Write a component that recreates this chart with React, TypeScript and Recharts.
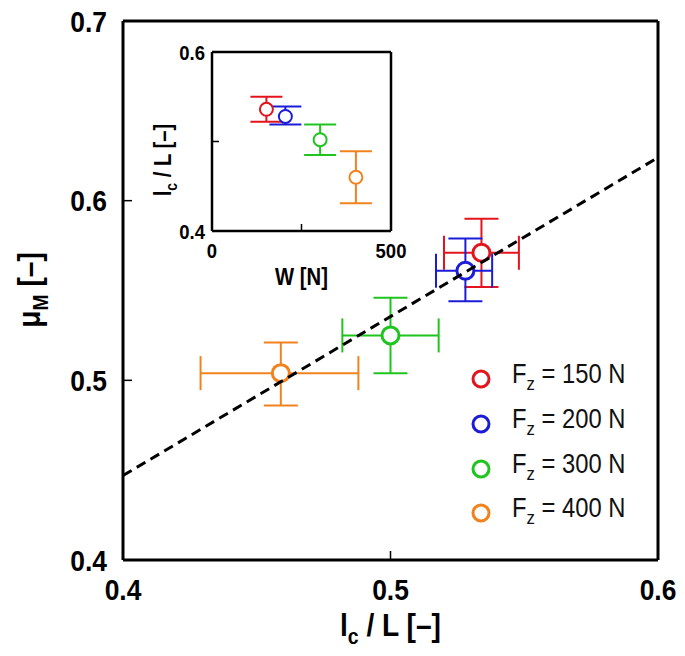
import React from "react";
import {
  ScatterChart,
  Scatter,
  XAxis,
  YAxis,
  ErrorBar,
  Legend,
  Label,
} from "recharts";

// normal loads F_z [N] and their colours
const loads = [150, 200, 300, 400];
const colors = ["#e3141c", "#1c1cd8", "#1fc41f", "#f2821e"];

// main plot: l_c/L (x) vs mu_M (y), with error bounds
const lcL = [0.534, 0.528, 0.5, 0.459];
const lcLLow = [0.52, 0.517, 0.482, 0.429];
const lcLHigh = [0.548, 0.538, 0.518, 0.488];
const muM = [0.571, 0.561, 0.525, 0.504];
const muMLow = [0.552, 0.544, 0.504, 0.486];
const muMHigh = [0.59, 0.579, 0.546, 0.521];

// fitted dashed line end points
const fitX = [0.4, 0.6];
const fitY = [0.447, 0.624];

// inset: W [N] vs l_c/L
const insetW = [152, 205, 302, 402];
const insetLcL = [0.536, 0.528, 0.502, 0.46];
const insetLow = [0.522, 0.519, 0.485, 0.431];
const insetHigh = [0.55, 0.539, 0.519, 0.489];

const mainXTicks = [0.4, 0.5, 0.6];
const mainYTicks = [0.4, 0.5, 0.6, 0.7];
const insetXTicks = [0, 250, 500];
const insetYTicks = [0.4, 0.5, 0.6];

const mainSeries = loads.map((load, i) => [
  {
    x: lcL[i],
    y: muM[i],
    ex: [lcL[i] - lcLLow[i], lcLHigh[i] - lcL[i]],
    ey: [muM[i] - muMLow[i], muMHigh[i] - muM[i]],
  },
]);

const fitData = fitX.map((x, i) => ({ x, y: fitY[i] }));

const insetSeries = loads.map((load, i) => [
  {
    x: insetW[i],
    y: insetLcL[i],
    ey: [insetLcL[i] - insetLow[i], insetHigh[i] - insetLcL[i]],
  },
]);
const insetAll = insetW.map((x, i) => ({ x, y: insetLcL[i] }));

const FONT = "'Liberation Sans', Arial, sans-serif";
const SQUEEZE = 0.88;

const axisLine = { stroke: "#000", strokeWidth: 3 };
const insetAxisLine = { stroke: "#000", strokeWidth: 2.5 };
const tickLine = { stroke: "#000", strokeWidth: 1.5 };

// condensed-looking tick label
const makeTick = (fontSize: number, side: "bottom" | "left", fmt: (v: number) => string) => (props: any) => {
  const { x, y, payload } = props;
  const label = fmt(payload.value);
  if (!label) return <g />;
  const base = side === "bottom" ? y + fontSize * 0.72 : y + fontSize * 0.36;
  return (
    <text
      transform={`translate(${x},${base}) scale(${SQUEEZE},1)`}
      textAnchor={side === "bottom" ? "middle" : "end"}
      fontFamily={FONT}
      fontWeight={700}
      fontSize={fontSize}
      fill="#000"
    >
      {label}
    </text>
  );
};

const none = () => <g />;

const ring = (r: number, color: string, sw: number) => (props: any) =>
  <circle cx={props.cx} cy={props.cy} r={r} fill="#fff" stroke={color} strokeWidth={sw} />;

const renderLegend = (props: any) => {
  const { payload } = props;
  const items = (payload || []).filter((e: any) => e.value !== "fit");
  return (
    <div style={{ fontFamily: FONT, fontSize: 27, color: "#111" }}>
      {items.map((entry: any, i: number) => (
        <div key={i} style={{ display: "flex", alignItems: "center", height: 44.7 }}>
          <svg width={22} height={22}>
            <circle cx={11} cy={11} r={8} fill="#fff" stroke={colors[i]} strokeWidth={3} />
          </svg>
          <span
            style={{
              marginLeft: 20,
              lineHeight: "27px",
              display: "inline-block",
              transform: `scaleX(${SQUEEZE})`,
              transformOrigin: "left center",
              whiteSpace: "nowrap",
            }}
          >
            F<sub style={{ fontSize: 19, verticalAlign: -7 }}>z</sub> = {entry.value} N
          </span>
        </div>
      ))}
    </div>
  );
};

const MainXTitle = (props: any) => {
  const { viewBox } = props;
  const cx = viewBox.x + viewBox.width / 2;
  return (
    <text
      transform={`translate(${cx},636) scale(${SQUEEZE},1)`}
      textAnchor="middle"
      fontFamily={FONT}
      fontWeight={700}
      fontSize={32}
    >
      <tspan>l</tspan>
      <tspan dy={8} fontSize={22}>c</tspan>
      <tspan dy={-8}> / L [–]</tspan>
    </text>
  );
};

const MainYTitle = () => (
  <text
    transform={`translate(40,290) rotate(-90) scale(${SQUEEZE},1)`}
    textAnchor="middle"
    fontFamily={FONT}
    fontWeight={700}
    fontSize={32}
  >
    <tspan>μ</tspan>
    <tspan dy={8} fontSize={22}>M</tspan>
    <tspan dy={-8}> [–]</tspan>
  </text>
);

const InsetXTitle = (props: any) => {
  const { viewBox } = props;
  const cx = viewBox.x + viewBox.width / 2;
  return (
    <text
      transform={`translate(${cx},255) scale(${SQUEEZE},1)`}
      textAnchor="middle"
      fontFamily={FONT}
      fontWeight={700}
      fontSize={23}
    >
      W [N]
    </text>
  );
};

const InsetYTitle = () => (
  <text
    transform={`translate(41,130) rotate(-90) scale(${SQUEEZE},1)`}
    textAnchor="middle"
    fontFamily={FONT}
    fontWeight={700}
    fontSize={23}
  >
    <tspan>l</tspan>
    <tspan dy={6} fontSize={16}>c</tspan>
    <tspan dy={-6}> / L [–]</tspan>
  </text>
);

const fmt1 = (v: number) => v.toFixed(1);

export default function App() {
  return (
    <div style={{ position: "absolute", left: 0, top: 0, width: 685, height: 656, background: "#fff" }}>
      <div style={{ position: "absolute", left: 0, top: 0 }}>
        <ScatterChart width={685} height={656} margin={{ top: 20, right: 26, bottom: 0, left: 0 }}>
          <XAxis
            dataKey="x"
            type="number"
            domain={[0.4, 0.6]}
            ticks={mainXTicks}
            allowDataOverflow
            height={96}
            tickSize={-9}
            tickMargin={27}
            tick={makeTick(30, "bottom", fmt1)}
            axisLine={axisLine}
            tickLine={tickLine}
          >
            <Label content={MainXTitle} />
          </XAxis>
          <XAxis
            xAxisId="top"
            dataKey="x"
            orientation="top"
            type="number"
            domain={[0.4, 0.6]}
            ticks={mainXTicks}
            allowDataOverflow
            height={1}
            tickSize={-9}
            tick={false}
            axisLine={axisLine}
            tickLine={tickLine}
          />
          <YAxis
            dataKey="y"
            type="number"
            domain={[0.4, 0.7]}
            ticks={mainYTicks}
            allowDataOverflow
            width={123}
            tickSize={-9}
            tickMargin={25}
            tick={makeTick(30, "left", fmt1)}
            axisLine={axisLine}
            tickLine={tickLine}
          >
            <Label content={MainYTitle} />
          </YAxis>
          <YAxis
            yAxisId="right"
            dataKey="y"
            orientation="right"
            type="number"
            domain={[0.4, 0.7]}
            ticks={mainYTicks}
            allowDataOverflow
            width={1}
            tickSize={-9}
            tick={false}
            axisLine={axisLine}
            tickLine={tickLine}
          />
          {mainSeries.map((d, i) => (
            <Scatter
              key={loads[i]}
              name={String(loads[i])}
              data={d}
              fill={colors[i]}
              shape={ring(8.5, colors[i], 3)}
              isAnimationActive={false}
            >
              <ErrorBar dataKey="ex" direction="x" width={17} stroke={colors[i]} strokeWidth={2} />
              <ErrorBar dataKey="ey" direction="y" width={17} stroke={colors[i]} strokeWidth={2} />
            </Scatter>
          ))}
          <Scatter
            name="fit"
            data={fitData}
            xAxisId="top"
            yAxisId="right"
            fill="#000"
            shape={none}
            line={{ stroke: "#000", strokeWidth: 3, strokeDasharray: "10 6" }}
            isAnimationActive={false}
          />
          <Legend
            layout="vertical"
            align="center"
            verticalAlign="middle"
            content={renderLegend}
            wrapperStyle={{ left: 470, top: 357, width: 200 }}
          />
        </ScatterChart>
      </div>
      <div style={{ position: "absolute", left: 130, top: 30 }}>
        <ScatterChart width={280} height={260} margin={{ top: 21, right: 18, bottom: 0, left: 0 }}>
          <XAxis
            dataKey="x"
            type="number"
            domain={[0, 500]}
            ticks={insetXTicks}
            allowDataOverflow
            height={59}
            tickSize={-7}
            tickMargin={19}
            tick={makeTick(21, "bottom", (v) => (v === 250 ? "" : String(v)))}
            axisLine={insetAxisLine}
            tickLine={tickLine}
          >
            <Label content={InsetXTitle} />
          </XAxis>
          <XAxis
            xAxisId="top"
            dataKey="x"
            orientation="top"
            type="number"
            domain={[0, 500]}
            ticks={insetXTicks}
            allowDataOverflow
            height={1}
            tickSize={-7}
            tick={false}
            axisLine={insetAxisLine}
            tickLine={tickLine}
          />
          <YAxis
            dataKey="y"
            type="number"
            domain={[0.4, 0.6]}
            ticks={insetYTicks}
            allowDataOverflow
            width={82}
            tickSize={-7}
            tickMargin={14}
            tick={makeTick(21, "left", (v) => (Math.abs(v - 0.5) < 1e-9 ? "" : v.toFixed(1)))}
            axisLine={insetAxisLine}
            tickLine={tickLine}
          >
            <Label content={InsetYTitle} />
          </YAxis>
          <YAxis
            yAxisId="right"
            dataKey="y"
            orientation="right"
            type="number"
            domain={[0.4, 0.6]}
            ticks={insetYTicks}
            allowDataOverflow
            width={1}
            tickSize={-7}
            tick={false}
            axisLine={insetAxisLine}
            tickLine={tickLine}
          />
          {insetSeries.map((d, i) => (
            <Scatter
              key={loads[i]}
              data={d}
              fill={colors[i]}
              shape={ring(6.5, colors[i], 2)}
              isAnimationActive={false}
            >
              <ErrorBar dataKey="ey" direction="y" width={16} stroke={colors[i]} strokeWidth={2} />
            </Scatter>
          ))}
          <Scatter
            data={insetAll}
            xAxisId="top"
            yAxisId="right"
            shape={none}
            isAnimationActive={false}
          />
        </ScatterChart>
      </div>
    </div>
  );
}
